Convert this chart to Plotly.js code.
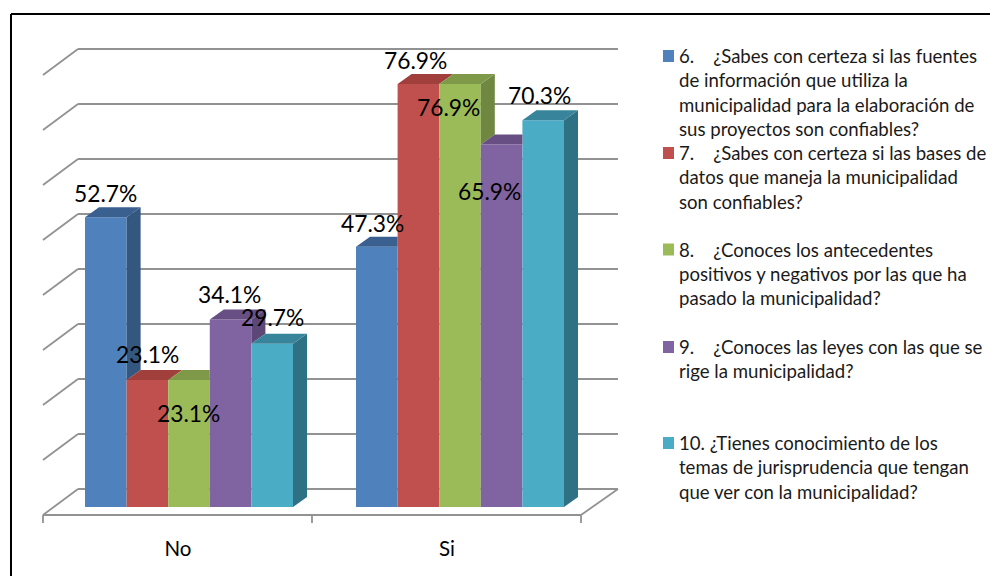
<!DOCTYPE html>
<html>
<head>
<meta charset="utf-8">
<script src="https://cdn.plot.ly/plotly-3.0.1.min.js"></script>
<style>html,body{margin:0;padding:0;background:#fff}</style>
</head>
<body>
<div id="chart" style="width:990px;height:576px"></div>
<script>
// Survey answers, percent of respondents
const categories = ["No", "Si"];
const q6 = [52.7, 47.3];
const q7 = [23.1, 76.9];
const q8 = [23.1, 76.9];
const q9 = [34.1, 65.9];
const q10 = [29.7, 70.3];
const seriesValues = [q6, q7, q8, q9, q10];

// Question wording, one entry per wrapped line
const q6Lines = ["6.\u00a0\u00a0\u00a0\u00a0¿Sabes con certeza si las fuentes", "de información que utiliza la", "municipalidad para la elaboración de", "sus proyectos son confiables?"];
const q7Lines = ["7.\u00a0\u00a0\u00a0\u00a0¿Sabes con certeza si las bases de", "datos que maneja la municipalidad", "son confiables?"];
const q8Lines = ["8.\u00a0\u00a0\u00a0\u00a0¿Conoces los antecedentes", "positivos y negativos por las que ha", "pasado la municipalidad?"];
const q9Lines = ["9.\u00a0\u00a0\u00a0\u00a0¿Conoces las leyes con las que se", "rige la municipalidad?"];
const q10Lines = ["10. ¿Tienes conocimiento de los", "temas de jurisprudencia que tengan", "que ver con la municipalidad?"];
const seriesLines = [q6Lines, q7Lines, q8Lines, q9Lines, q10Lines];

// Face colours per series
const frontColors = ["#4F81BD", "#C0504D", "#9BBB59", "#8064A2", "#4BACC6"];
const sideColors = ["#34577F", "#8C3A38", "#6F8740", "#5C4776", "#2F7184"];
const topColors = ["#3A6090", "#A03F3C", "#7E9A49", "#674F83", "#38859B"];

// Hand placement of each value label relative to its bar top, in pixels
const labelShiftX = [[0, -4], [0, -3], [-1, -12], [-1, -12], [0, -4]];
const labelShiftY = [[24, 24], [26, 24], [-33, -23], [25, -46], [27, 25]];

// Gridline levels on the back wall
const gridLevels = [0, 10, 20, 30, 40, 50, 60, 70, 80];

// Figure scale: pixels per percent and pixels per category step
const W = 990, H = 576, marginB = 42;
const plotH = H - marginB;
const pxPerPct = 5.5, pxPerCat = 271;
const zeroPx = 507, firstCatPx = 189;

const xRange = [(0 - firstCatPx) / pxPerCat, (W - firstCatPx) / pxPerCat];
const yRange = [(zeroPx - plotH) / pxPerPct, zeroPx / pxPerPct];
const xAt = px => (px - firstCatPx) / pxPerCat;
const dX = px => px / pxPerCat;
const dY = px => px / pxPerPct;
const paperX = px => px / W;
const paperY = py => (plotH - py) / plotH;

const groupPx = 208, barPx = groupPx / 5;
const barUnits = barPx / pxPerCat;
const depthX = dX(14), depthY = dY(10);

const traces = [];
const annotations = [];

// Front faces
seriesValues.forEach((vals, s) => {
  traces.push({
    type: "bar", x: [0, 1], y: vals, name: seriesLines[s].join(" "),
    marker: {color: frontColors[s], line: {width: 0}}, hoverinfo: "name+y", showlegend: false
  });
});

// Polygon filled through the axes, used for the side and top faces of the bars
function face(xs, ys, color) {
  traces.push({
    type: "scatter", mode: "lines", x: xs.concat(xs[0]), y: ys.concat(ys[0]),
    fill: "toself", fillcolor: color, line: {width: 0, color: color},
    hoverinfo: "skip", showlegend: false
  });
}

// Bars stand side by side, so each face shows only what its right neighbour leaves visible
seriesValues.forEach((vals, s) => {
  vals.forEach((v, c) => {
    const left = c + (s - 2.5) * barUnits, right = left + barUnits;
    const next = s < seriesValues.length - 1 ? seriesValues[s + 1][c] : 0;
    if (v > next) {
      face([right, right + depthX, right + depthX, right],
           [v, v + depthY, next + depthY, next], sideColors[s]);
    }
    if (next > v) {
      face([left, right, right, left + depthX],
           [v, v, v + depthY, v + depthY], topColors[s]);
    } else {
      face([left, right, right + depthX, left + depthX],
           [v, v, v + depthY, v + depthY], topColors[s]);
    }
    annotations.push({
      x: (left + right) / 2, y: v, xref: "x", yref: "y", text: v.toFixed(1) + "%",
      showarrow: false, xshift: labelShiftX[s][c], yshift: labelShiftY[s][c],
      font: {family: "Lato", size: 22.8, color: "#000"}
    });
  });
});

// Wall gridlines, floor and tick marks sit behind the bars
const gridStyle = {color: "#929292", width: 1.8};
const shapes = [];
function segment(x0, y0, x1, y1) {
  shapes.push({type: "line", layer: "below", xref: "x", yref: "y", x0, y0, x1, y1, line: gridStyle});
}
const frontDrop = dY(8), backRise = dY(18);
const wallLeft = xAt(43), wallBack = xAt(78), wallRight = xAt(618), floorRight = xAt(581);
gridLevels.forEach(v => {
  segment(wallLeft, v - frontDrop, wallBack, v + backRise);
  segment(wallBack, v + backRise, wallRight, v + backRise);
});
segment(wallLeft, -frontDrop, floorRight, -frontDrop);
segment(floorRight, -frontDrop, wallRight, backRise);
[43, 312, 581].forEach(px => segment(xAt(px), -frontDrop, xAt(px), -frontDrop - dY(8)));

// Frame along the top and left edges of the figure
const frameStyle = {color: "#000", width: 2};
shapes.push({type: "line", xref: "paper", yref: "paper", x0: paperX(11), x1: paperX(990), y0: paperY(14), y1: paperY(14), line: frameStyle});
shapes.push({type: "line", xref: "paper", yref: "paper", x0: paperX(11), x1: paperX(11), y0: paperY(14), y1: paperY(576), line: frameStyle});

// Key on the right: a swatch and wrapped lines per question
const keyTops = [56, 153, 249.5, 347, 443];
const lineStep = 24.3;
seriesLines.forEach((lines, s) => {
  shapes.push({
    type: "rect", xref: "paper", yref: "paper",
    x0: paperX(663), x1: paperX(674), y0: paperY(keyTops[s] + 6), y1: paperY(keyTops[s] - 6),
    fillcolor: frontColors[s], line: {width: 0}
  });
  lines.forEach((t, i) => {
    annotations.push({
      xref: "paper", yref: "paper", x: paperX(677), y: paperY(keyTops[s] + i * lineStep),
      xanchor: "left", yanchor: "middle", align: "left", showarrow: false, text: t,
      font: {family: "Lato", size: 18.6, color: "#1a1a1a"}
    });
  });
});

const layout = {
  width: W, height: H,
  margin: {l: 0, r: 0, t: 0, b: marginB, pad: 0},
  paper_bgcolor: "#fff", plot_bgcolor: "#fff",
  barmode: "group", bargap: 1 - groupPx / pxPerCat, bargroupgap: 0,
  showlegend: false,
  xaxis: {
    range: xRange, showgrid: false, zeroline: false, showline: false, ticks: "",
    tickmode: "array", tickvals: [xAt(178), xAt(447)], ticktext: categories,
    tickfont: {family: "Lato", size: 20.5, color: "#000"}
  },
  yaxis: {range: yRange, visible: false, showgrid: false, zeroline: false},
  shapes, annotations
};

Plotly.newPlot("chart", traces, layout, {displayModeBar: false, responsive: false});
</script>
</body>
</html>
